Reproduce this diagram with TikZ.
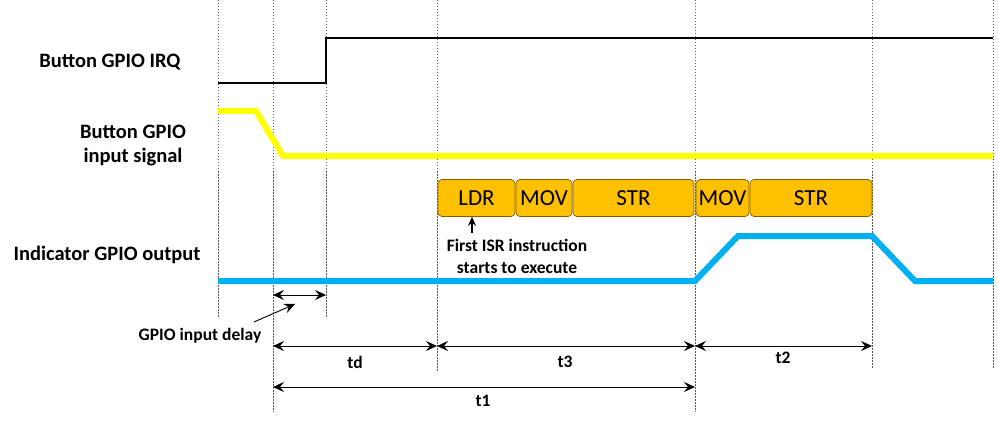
\documentclass[tikz,border=0pt]{standalone}
\usepackage{fontspec}
\setmainfont{Carlito}
\usetikzlibrary{arrows.meta}
\definecolor{ybox}{HTML}{FFC000}
\definecolor{yline}{HTML}{FFFF00}
\definecolor{bline}{HTML}{00B0F0}
\definecolor{bborder}{HTML}{7F5F00}
\tikzset{
  grid/.style={gray!70!black, densely dashed, dash pattern=on 1.5pt off 1.5pt, line width=0.6pt},
  lbl/.style={font=\bfseries\fontsize{20.5}{24}\selectfont, align=center},
  instr/.style={draw=bborder, fill=ybox, rounded corners=4pt, line width=0.7pt, font=\fontsize{23}{26}\selectfont, inner sep=0pt},
  dim/.style={line width=0.9pt, >={Stealth[length=11pt,width=10pt,inset=4pt]}, <->},
  oneway/.style={line width=0.9pt, >={Stealth[length=11pt,width=10pt,inset=4pt]}, ->},
  small/.style={font=\bfseries\fontsize{17.5}{22}\selectfont, align=center},
}
\begin{document}
\begin{tikzpicture}[x=1pt,y=-1pt]
\useasboundingbox (0,0) rectangle (998,422);
% grid lines
\coordinate (g1t) at (218,0); \coordinate (g1b) at (218,318);
\coordinate (g2t) at (273,0); \coordinate (g2b) at (273,412);
\coordinate (g3t) at (326,0); \coordinate (g3b) at (326,318);
\coordinate (g4t) at (437,0); \coordinate (g4b) at (437,372);
\coordinate (g5t) at (695,0); \coordinate (g5b) at (695,412);
\coordinate (g6t) at (872,0); \coordinate (g6b) at (872,368);
\coordinate (g7t) at (993,0); \coordinate (g7b) at (993,368);
\foreach \i in {1,...,7} \draw[grid] (g\i t) -- (g\i b);
% labels
\node[lbl, anchor=east] (lirq) at (184,62) {Button GPIO IRQ};
\node[lbl] (lin) at (133,146) {Button GPIO\\input signal};
\node[lbl, anchor=east] (lout) at (204,255) {Indicator GPIO output};
% IRQ signal
\draw[line width=1.5pt] (218,83) -- (326,83) -- (326,38) -- (993,38);
% input signal
\draw[yline, line width=6pt] (218,111) -- (256,111) -- (283,156) -- (993,156);
% output signal
\draw[bline, line width=6pt] (218,281) -- (695,281) -- (738,236) -- (872,236) -- (915,281) -- (993,281);
% instruction boxes
\node[instr, minimum width=77pt, minimum height=37pt] (ldr) at (476.5,198) {LDR};
\node[instr, minimum width=56pt, minimum height=37pt] (mov1) at (544,198) {MOV};
\node[instr, minimum width=121pt, minimum height=37pt] (str1) at (633.5,198) {STR};
\node[instr, minimum width=53pt, minimum height=37pt] (mov2) at (722.5,198) {MOV};
\node[instr, minimum width=122pt, minimum height=37pt] (str2) at (811,198) {STR};
% annotation
\node[small] (first) at (517,256) {First ISR instruction\\starts to execute};
\coordinate (fa) at (472,233);
\draw[line width=1.2pt, -{Stealth[length=9pt,width=8pt,inset=3pt]}] (fa) -- (ldr.south -| fa);
% dimensions
\coordinate (d1a) at (273,295); \coordinate (d1b) at (326,295);
\draw[dim] (d1a) -- (d1b);
\node[small] (gid) at (200,336) {GPIO input delay};
\coordinate (gia) at (254,322); \coordinate (gib) at (295,304);
\draw[oneway] (gia) -- (gib);
\coordinate (tda) at (273,346); \coordinate (tdb) at (437,346);
\draw[dim] (tda) -- (tdb);
\node[small] (td) at (355,362) {td};
\coordinate (t3a) at (437,346); \coordinate (t3b) at (695,346);
\draw[dim] (t3a) -- (t3b);
\node[small] (t3) at (565,362) {t3};
\coordinate (t2a) at (695,346); \coordinate (t2b) at (872,346);
\draw[dim] (t2a) -- (t2b);
\node[small] (t2) at (783,358) {t2};
\coordinate (t1a) at (273,387); \coordinate (t1b) at (695,387);
\draw[dim] (t1a) -- (t1b);
\node[small] (t1) at (483,401) {t1};
\end{tikzpicture}
\end{document}
